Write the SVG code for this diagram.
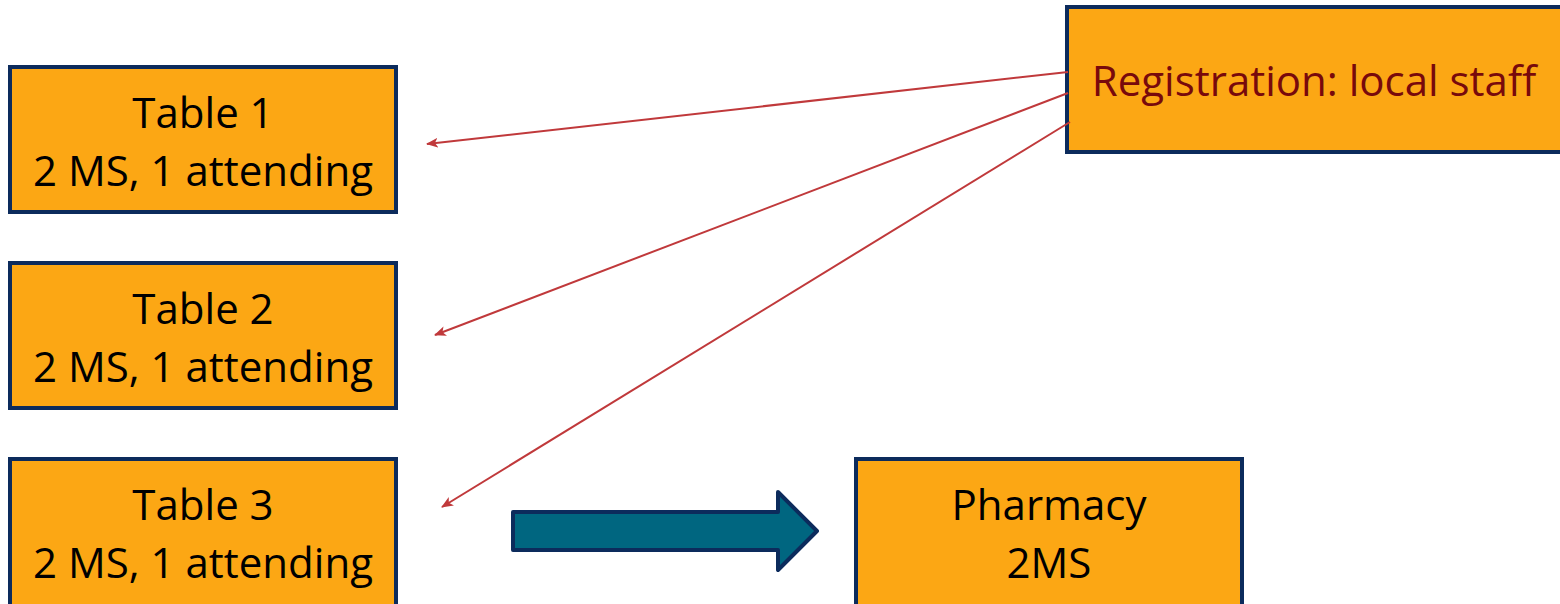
<svg xmlns="http://www.w3.org/2000/svg" width="1560" height="604" viewBox="0 0 1560 604">
<style>
.box{fill:#fca714;stroke:#0c2b5c;stroke-width:4}
.t{font-family:"Open Sans","Noto Sans",sans-serif;font-size:42px;fill:#000;text-anchor:middle}
.r{font-family:"Open Sans","Noto Sans",sans-serif;font-size:42px;fill:#78090c;text-anchor:middle}
.c{stroke:#c0393b;stroke-width:2;fill:none;marker-end:url(#ah)}
</style>
<defs>
<marker id="ah" markerWidth="12" markerHeight="10" refX="11" refY="5" orient="auto" markerUnits="userSpaceOnUse">
<path d="M0,0 L12,5 L0,10 L3,5 Z" fill="#c0393b"/>
</marker>
</defs>
<rect width="1560" height="604" fill="#fff"/>
<g id="table1"><rect class="box" x="10" y="67" width="386" height="145"/><text class="t" x="203" y="128">Table 1</text><text class="t" x="203" y="186">2 MS, 1 attending</text></g>
<g id="table2"><rect class="box" x="10" y="263" width="386" height="145"/><text class="t" x="203" y="324">Table 2</text><text class="t" x="203" y="382">2 MS, 1 attending</text></g>
<g id="table3"><rect class="box" x="10" y="459" width="386" height="147"/><text class="t" x="203" y="520">Table 3</text><text class="t" x="203" y="578">2 MS, 1 attending</text></g>
<g id="pharmacy"><rect class="box" x="856" y="459" width="386" height="147"/><text class="t" x="1049" y="520">Pharmacy</text><text class="t" x="1049" y="578">2MS</text></g>
<g id="registration"><rect class="box" x="1067" y="7" width="500" height="145"/><text class="r" x="1314" y="96">Registration: local staff</text></g>
<g id="connectors">
<line class="c" x1="1068" y1="72" x2="427" y2="144"/>
<line class="c" x1="1068" y1="93" x2="435" y2="335"/>
<line class="c" x1="1070" y1="122" x2="442" y2="507"/>
<path id="bigarrow" d="M513,512 L778,512 L778,492 L817,531 L778,570 L778,550 L513,550 Z" fill="#006680" stroke="#0c2b5c" stroke-width="4" stroke-linejoin="round"/>
</g>
</svg>
